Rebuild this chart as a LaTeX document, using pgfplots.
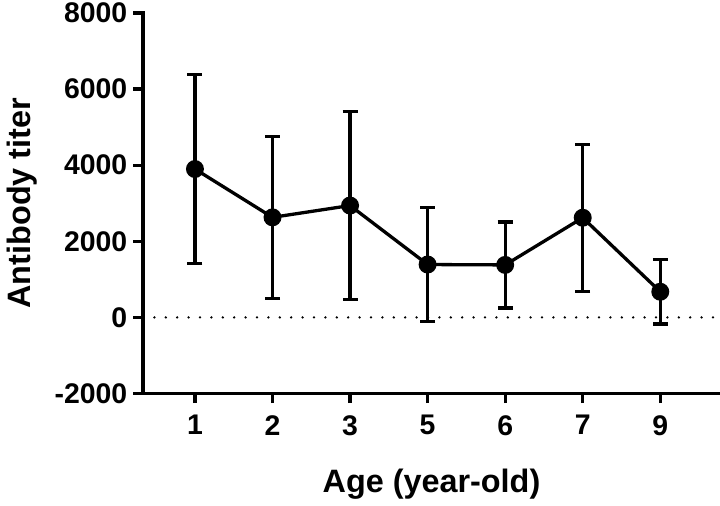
\documentclass[border=0pt]{standalone}
\usepackage{pgfplots}
\pgfplotsset{compat=1.18}
\usepackage{fontspec}
\setmainfont{Liberation Sans}
\begin{document}
\begin{tikzpicture}
\begin{axis}[
  scale only axis, width=577bp, height=380.5bp,
  xmin=0.33, xmax=7.77, ymin=-2000, ymax=8000,
  axis x line*=bottom, axis y line*=left,
  axis line style={line width=3.3bp, -, line cap=rect},
  xtick={1,2,3,4,5,6,7}, xticklabels={1,2,3,5,6,7,9},
  ytick={-2000,0,2000,4000,6000,8000},
  yticklabels={-2000,0,2000,4000,6000,8000},
  tick align=outside, major tick length=9.5bp,
  tick style={line width=3.3bp, black},
  ticklabel style={font=\fontsize{28.5}{31}\selectfont\bfseries, inner sep=0pt},
  yticklabel style={xshift=-6bp},
  xticklabel style={yshift=-12bp},
  xlabel={Age (year-old)}, ylabel={Antibody titer},
  label style={font=\fontsize{32.5}{37}\selectfont\bfseries, inner sep=0pt},
  xlabel style={at={(axis description cs:0.5,-0.199)}, anchor=north},
  ylabel style={at={(axis description cs:-0.236,0.5)}, anchor=north},
  clip=false,
]
\addplot[black, line width=2.6bp, dash pattern=on 0bp off 11.4bp, dash phase=0bp, line cap=round, forget plot]
  coordinates {(0.33,0) (7.77,0)};
\addplot[black, line width=3.3bp, mark=*, mark size=7.3bp,
  error bars/.cd, y dir=both, y explicit,
  error bar style={line width=3.3bp, black},
  error mark options={line width=3.3bp, mark size=7.5bp, rotate=90}]
  coordinates {
    (1,3900) +- (0,2480)
    (2,2630) +- (0,2130)
    (3,2940) +- (0,2470)
    (4,1390) +- (0,1500)
    (5,1380) +- (0,1130)
    (6,2620) +- (0,1930)
    (7,675)  +- (0,845)
  };
\coordinate (bl) at (axis description cs:-0.2478,-0.2930);
\coordinate (tr) at (axis description cs:1,1.0342);
\end{axis}
\pgfresetboundingbox
\path[use as bounding box] (bl) rectangle (tr);
\end{tikzpicture}
\end{document}
